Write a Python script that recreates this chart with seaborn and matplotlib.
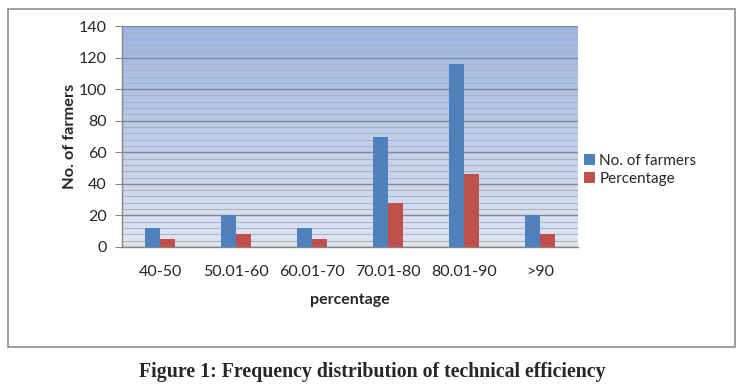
import numpy as np
import pandas as pd
import matplotlib
matplotlib.use("Agg")
import matplotlib.pyplot as plt
import seaborn as sns
from matplotlib.colors import LinearSegmentedColormap
from matplotlib.patches import Rectangle

categories = ["40-50", "50.01-60", "60.01-70", "70.01-80", "80.01-90", ">90"]
farmers = [12, 20, 12, 70, 116, 20]
percentage = [4.8, 8, 4.8, 28, 46.4, 8]
series = ["No. of farmers", "Percentage"]
colors = ["#4F81BD", "#C0504D"]

df = pd.DataFrame({
    "range": categories * 2,
    "value": farmers + percentage,
    "series": [series[0]] * len(categories) + [series[1]] * len(categories),
})

sns.set_style("white")
plt.rcParams["font.family"] = ["Lato", "DejaVu Sans"]

fig = plt.figure(figsize=(7.44, 3.89), dpi=100)
ax = fig.add_axes([122 / 744, 1 - 247 / 389, 456 / 744, 221 / 389])

# outer chart border
fig.patches.append(Rectangle((8 / 744, 1 - 347 / 389), 727 / 744, 338 / 389,
                             transform=fig.transFigure, fill=False,
                             edgecolor="#8c8c8c", linewidth=1.2))

# gradient plot background
cmap = LinearSegmentedColormap.from_list("bg", ["#DDE5F4", "#9CB5E3"])
grad = np.linspace(0, 1, 256).reshape(-1, 1)
ax.imshow(grad, cmap=cmap, origin="lower", aspect="auto",
          extent=[-0.5, 5.5, 0, 140], zorder=0)

sns.barplot(data=df, x="range", y="value", hue="series", palette=colors,
            width=0.4, gap=0, ax=ax, zorder=3, saturation=1, linewidth=0)

ax.set_xlim(-0.5, 5.5)
ax.set_ylim(0, 140)
ax.set_yticks(np.arange(0, 141, 20))
ax.set_yticks(np.arange(0, 141, 4), minor=True)
ax.grid(True, which="major", axis="y", color="#868686", linewidth=1.0, zorder=1)
ax.grid(True, which="minor", axis="y", color="#aeb0b4", linewidth=0.7, zorder=1)
ax.set_axisbelow(True)

for side in ["top", "right"]:
    ax.spines[side].set_visible(False)
for side in ["left", "bottom"]:
    ax.spines[side].set_color("#868686")
    ax.spines[side].set_linewidth(1.0)

ax.tick_params(axis="y", which="major", length=5, color="#868686",
               labelsize=11.5, pad=6, left=True)
ax.tick_params(axis="y", which="minor", length=0)
ax.tick_params(axis="x", length=0, labelsize=11.5, pad=13)

ax.set_xlabel("percentage", fontsize=11.5, fontweight="bold", labelpad=10)
ax.set_ylabel("No. of farmers", fontsize=11.8, fontweight="bold", labelpad=1)

ax.legend(loc="center left", bbox_to_anchor=(1.0, 0.35), frameon=False,
          fontsize=11, handlelength=0.7, handleheight=0.7,
          handletextpad=0.3, labelspacing=0.25, borderaxespad=0.0)

fig.text(0.5, 1 - 372 / 389, "Figure 1: Frequency distribution of technical efficiency",
         ha="center", va="center", fontsize=14.3, fontweight="bold",
         family=["Liberation Serif", "DejaVu Serif"])

fig.savefig("out.png", dpi=100)
